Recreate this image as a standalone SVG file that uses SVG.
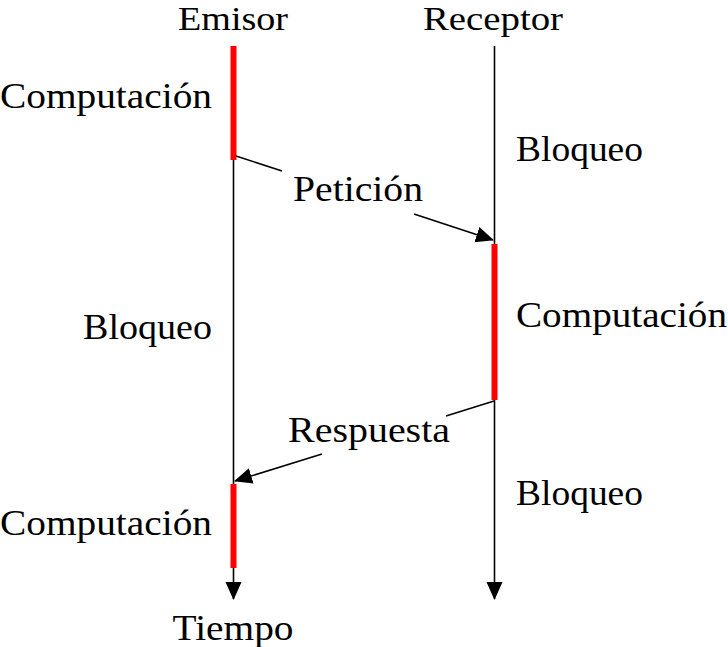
<svg xmlns="http://www.w3.org/2000/svg" width="728" height="647" viewBox="0 0 728 647">
<style>
text{font-family:"Liberation Serif","DejaVu Serif",serif;font-size:36px;fill:#000}
.top{font-size:33px}
.ln{stroke:#000;stroke-width:1.6;fill:none}
.red{stroke:#ff0000;stroke-width:6;fill:none}
</style>
<defs>
<marker id="ah" markerUnits="userSpaceOnUse" markerWidth="22" markerHeight="18" refX="17" refY="8" orient="auto">
<path d="M0,0 L18,8 L0,16 Z" fill="#000"/>
</marker>
</defs>
<rect width="728" height="647" fill="#fff"/>
<g id="emisor">
<text class="top" x="233" y="29.5" text-anchor="middle" textLength="110" lengthAdjust="spacingAndGlyphs">Emisor</text>
</g>
<g id="receptor">
<text class="top" x="493" y="29.5" text-anchor="middle" textLength="140" lengthAdjust="spacingAndGlyphs">Receptor</text>
</g>
<g id="connectors">
<path class="ln" d="M233.5,46 L233.5,599" marker-end="url(#ah)"/>
<path class="ln" d="M494.5,46 L494.5,599" marker-end="url(#ah)"/>
<path class="red" d="M233.5,46 L233.5,160"/>
<path class="red" d="M233.5,484 L233.5,568"/>
<path class="red" d="M494.5,244 L494.5,400"/>
<path class="ln" d="M236,156 L282,171"/>
<path class="ln" d="M414,214 L493,240" marker-end="url(#ah)"/>
<path class="ln" d="M494,401 L446,416"/>
<path class="ln" d="M322,454 L235,481" marker-end="url(#ah)"/>
</g>
<g id="labels">
<text x="212" y="108" text-anchor="end" textLength="212" lengthAdjust="spacingAndGlyphs">Computación</text>
<text x="516" y="161" textLength="127" lengthAdjust="spacingAndGlyphs">Bloqueo</text>
<text x="358" y="201" text-anchor="middle" textLength="130" lengthAdjust="spacingAndGlyphs">Petición</text>
<text x="516" y="327" textLength="211" lengthAdjust="spacingAndGlyphs">Computación</text>
<text x="212" y="339" text-anchor="end" textLength="129" lengthAdjust="spacingAndGlyphs">Bloqueo</text>
<text x="369" y="442" text-anchor="middle" textLength="162" lengthAdjust="spacingAndGlyphs">Respuesta</text>
<text x="516" y="505" textLength="127" lengthAdjust="spacingAndGlyphs">Bloqueo</text>
<text x="212" y="535" text-anchor="end" textLength="212" lengthAdjust="spacingAndGlyphs">Computación</text>
<text x="233" y="640" text-anchor="middle" textLength="121" lengthAdjust="spacingAndGlyphs">Tiempo</text>
</g>
</svg>
